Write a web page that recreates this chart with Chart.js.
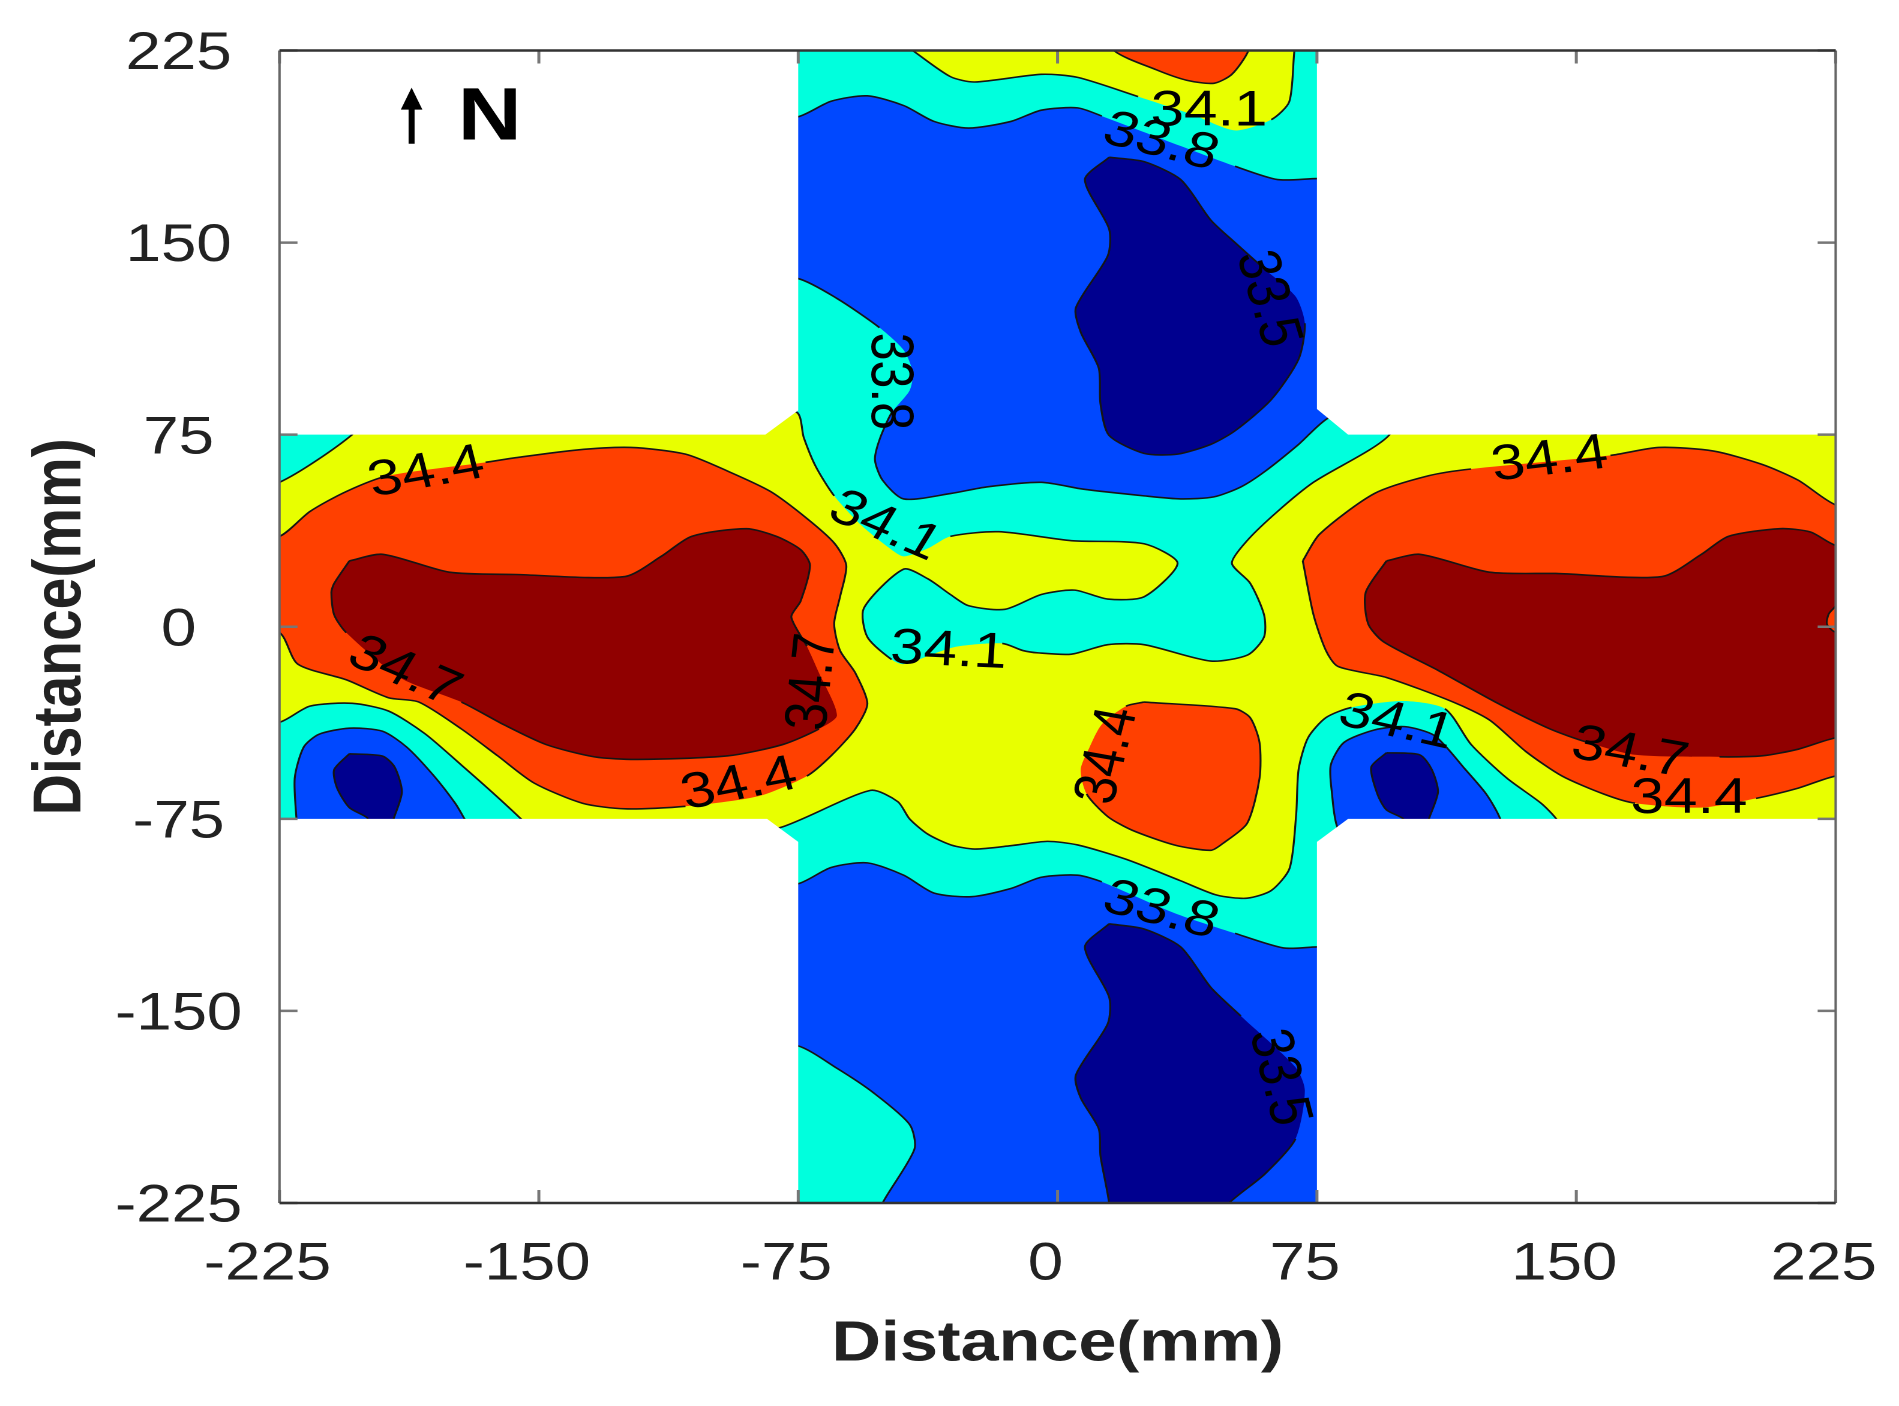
<!DOCTYPE html>
<html>
<head>
<meta charset="utf-8">
<title>Distance contour</title>
<script src="https://cdn.jsdelivr.net/npm/chart.js@4/dist/chart.umd.min.js"></script>
<style>
  html, body { margin: 0; background: #fff; overflow: hidden; }
  /* the original figure is stretched sideways by about 1.2 */
  #wrap { width: 1583px; height: 1406px; transform: scaleX(1.2); transform-origin: 0 0; }
</style>
</head>
<body>
<div id="wrap"><canvas id="c" width="1583" height="1406"></canvas></div>
<script>
const tickValues = [-225, -150, -75, 0, 75, 150, 225];

const levelColors = {
  c341: "#00ffdd",
  c338: "#0048ff",
  c335: "#00008f",
  c344: "#ff4000",
  c347: "#900000",
};

// contour outlines in mm. Parts outside the cross get covered by the white corners
const cyanMain = [[-90,235],[-90,84],[-75.5,83.8],[-73.4,73.9],[-69.9,62.5],[-64.6,51.1],[-56.8,39.7],[-48.9,31],[-44.5,27.5],[-37.5,30.6],[-31,35.3],[-17,37.1],[4,33.6],[25,32.4],[34.7,24.8],[25,11.7],[14.5,10.8],[4.9,14.3],[-4.7,12.6],[-15.2,6.8],[-25.7,8.2],[-31,12.6],[-37.5,18.7],[-44.5,22.5],[-56,7.3],[-55,-4],[-48,-12.8],[-44.5,-14.6],[-30,-8],[-16,-6.5],[-10,-9.3],[-5.6,-10.2],[4,-10.7],[14.5,-7],[25,-7],[44.3,-13.4],[55,-11],[59.7,-4],[59.7,4.7],[55.7,17],[50.4,24.8],[54.8,33.6],[63.6,45],[74,56.4],[96,75],[96,90],[90,235]];
const cyanCorner = [[-235,56],[-225,56.4],[-204,75],[-204,80],[-235,80]];
const cyanSouth = [[-90,-78],[-80.4,-78.5],[-54.1,-63.9],[-46.2,-68.3],[-42.8,-75],[-37.5,-81],[-30.8,-85.2],[-24,-86.8],[-13.5,-85.5],[-3,-83.8],[5.8,-85.2],[19.8,-90.8],[35.6,-99.2],[46.1,-104.8],[54.8,-106],[61.8,-103],[67.1,-94.3],[69,-73.2],[69.7,-55.7],[72.4,-43.4],[77.6,-35.5],[85,-31.5],[100,-29],[112,-32],[119.6,-46],[130,-59.2],[139.8,-68.9],[144.2,-75],[146,-80],[90,-235],[-90,-235]];
const cyanWest = [[-235,-37],[-225,-37.3],[-216.2,-31],[-204,-29.9],[-193.5,-32.9],[-183,-41.7],[-172.4,-54],[-163.6,-64.5],[-155.2,-75],[-154,-77],[-235,-77]];

const yellowCap = [[-41.9,225],[-41,235],[70,235],[68.5,225],[67,205],[61.8,198],[51.3,193.8],[39,200],[23.3,207],[5.8,214.5],[-4.7,215.7],[-24,212.7],[-31,214.8]];

const blueNorth = [[-90,199],[-75.2,199.1],[-65.5,205.2],[-55,207.3],[-44.5,203.5],[-35.7,197.3],[-25.7,194.7],[-13.5,197.3],[-4.7,201.7],[5.8,202.6],[12.8,199.4],[35.6,187.7],[51.3,179.8],[63.6,174.6],[75,175],[90,175],[90,85],[78.5,81.7],[69.7,71.2],[60,60.7],[53,54.6],[45.2,50.7],[35.6,49.9],[25,51.1],[7.5,53.7],[-4.7,56.4],[-20.5,54.6],[-31,52],[-44.5,49.9],[-50.6,57.2],[-52.8,65.1],[-51.5,73],[-48,83.5],[-42.8,92.2],[-41.9,99.3],[-44.5,108],[-51.5,116.8],[-63.8,128.2],[-75.2,136],[-90,136]];
const blueSouth = [[-90,-100.4],[-75.2,-100.4],[-65.5,-94],[-55,-92.2],[-44.5,-97],[-35.7,-104],[-24.9,-105.4],[-13.5,-102.2],[-4.7,-97.8],[5.8,-97],[12.8,-99.6],[33.8,-111.8],[51.3,-119.7],[65.3,-125.4],[75,-125],[90,-125],[90,-235],[-53,-235],[-50.6,-225],[-41.4,-204],[-42.8,-194.3],[-53.2,-182],[-63.8,-172.4],[-75.2,-163.6],[-90,-163.6]];
const blueWest = [[-220,-77],[-220.6,-59.2],[-218,-47],[-213.6,-42],[-204.8,-39.6],[-195.2,-40.8],[-188.2,-47],[-180.3,-58.3],[-174.2,-68.9],[-171.5,-75],[-170.7,-77]];
const blueEast = [[85,-80],[81,-78.5],[79.3,-64.5],[79,-54],[82.8,-45.2],[91.6,-40.3],[100.4,-39],[109,-42.5],[117.9,-55.7],[124,-65.4],[128,-75],[128,-80]];

const navyNorth = [[14.9,183.3],[25,181.6],[35.6,174.6],[44.3,158.8],[51.3,150],[60,139.5],[68.8,129],[71.5,118.5],[69.7,104.5],[61.8,88.7],[51.3,76.5],[44.3,71.2],[34.7,67.4],[25,67.7],[14.9,74.7],[12.4,87],[11.9,101],[6.7,115],[5.3,124.6],[14.5,144.8],[14.9,155.3],[7.9,174.6]];
const navySouth = [[14.9,-116],[25,-118],[35.6,-125],[44.3,-140.8],[53,-152],[68.8,-172],[71.5,-181],[68.8,-200],[60,-213.6],[49.6,-225],[44,-235],[15,-235],[14.9,-225],[12.4,-206.6],[11.9,-196],[6.7,-184],[5.3,-175],[14.5,-155],[14.9,-144.6],[7.9,-125]];
const navyWest = [[-204.8,-49.6],[-195.2,-50.5],[-191.7,-54.8],[-189.6,-64.5],[-192,-75],[-192.6,-77],[-199.6,-77],[-199.6,-74.6],[-204.8,-70.6],[-208.4,-62.8],[-209.2,-55.8]];
const navyEast = [[95.1,-49.2],[104.7,-50],[108.2,-55.7],[110,-64.5],[107.4,-75],[106.8,-78],[100,-78],[100,-75],[95.1,-71.5],[92.5,-65.4],[90.7,-54.8]];

const orangeWest = [[-235,35],[-225,35.3],[-216.2,45],[-205.7,52.8],[-193.5,59],[-165.4,64.2],[-156.7,66],[-139.1,69],[-123.4,70],[-107.6,67.4],[-95.3,60.7],[-83,52.8],[-72.5,42.3],[-64.6,32.7],[-61.1,24],[-62.9,11.7],[-64.6,1.2],[-62.9,-9.3],[-58.5,-18],[-55,-30],[-58.5,-39.9],[-65.5,-50.4],[-72.5,-58.3],[-86.6,-66.2],[-107.6,-70.1],[-125.1,-71.1],[-137.4,-68.9],[-151.4,-61],[-161.9,-50.4],[-172.4,-39.9],[-184.7,-29.4],[-193.5,-27.7],[-205.7,-20.7],[-219.7,-14.6],[-225,-2.3],[-235,-2]];
const orangeEast = [[70.9,25.7],[75.8,36.2],[91.6,52],[107.4,59],[119.6,61.6],[159.9,66.9],[173.9,70],[189.7,68.6],[203.7,63.4],[214.2,57.2],[225,47.6],[235,47],[235,-58],[225,-58.3],[214.2,-63],[202,-67],[186.2,-70.6],[167,-68.9],[158.1,-65.4],[145.9,-58.3],[135.4,-48.7],[124.9,-36.4],[114.4,-29.4],[95.1,-19.8],[81.1,-15.5],[77.6,-9.3],[74,4.7]];
const orangeCentre = [[25,-29.4],[51.3,-32],[55.7,-35.5],[58.4,-45.2],[58.4,-59.2],[54.8,-76.8],[47.8,-84.6],[44.3,-87.3],[33.8,-85.2],[21.5,-79.4],[14.5,-74.1],[8.4,-65.3],[6.7,-55.7],[9.3,-46.9],[12.8,-38.1],[19.8,-31]];
const orangeNorth = [[14,235],[16.3,225],[28.5,217.5],[37.3,213.4],[45.2,212.2],[50.4,215.7],[55.2,225],[56,235]];
const orangeEdge = [[225,8],[223,5],[222.5,1],[225,-2],[232,3]];

const darkRedWest = [[-204.8,25.7],[-195.2,28.3],[-175.9,21.3],[-156.7,20.4],[-125.1,19.6],[-114.6,27.5],[-105.8,35.3],[-90,38.3],[-81.3,35.3],[-74.3,30.1],[-71.6,24],[-74.3,10],[-77,3.8],[-72.5,-7.6],[-69,-18],[-63.8,-34.6],[-69,-39.9],[-79.5,-46],[-95.3,-50.4],[-121.6,-51.8],[-133.9,-50.8],[-147.9,-46],[-160.2,-38.2],[-172.4,-29.4],[-190,-20],[-205.7,-2.3],[-209.2,4.7],[-210,13.4],[-209.2,16.9]];
const darkRedEast = [[95.1,25.7],[104.7,28.3],[124.9,21.3],[144.1,20.8],[174.8,19.6],[186.2,28.3],[194,35.3],[208.9,38.3],[217.7,37],[225,31.8],[235,31],[235,-43],[225,-43.4],[214.2,-47.8],[203.7,-50.4],[191.4,-50.8],[167,-50],[152.9,-45],[142.4,-39.9],[126.6,-29.4],[110,-17],[94.2,-5.8],[89.8,1.2],[89.1,13.4]];

// white outside the cross
const cornerNW = [[-240,240],[-75,240],[-75,84.5],[-84.5,75],[-240,75]];
const cornerNE = [[240,240],[75,240],[75,85],[84,75],[240,75]];
const cornerSW = [[-240,-240],[-75,-240],[-75,-84],[-84,-75],[-240,-75]];
const cornerSE = [[240,-240],[75,-240],[75,-84],[84,-75],[240,-75]];

// contour labels
const labelTexts = ["34.4", "34.7", "34.7", "34.4", "34.1", "34.1", "33.8", "33.8", "34.1", "33.5", "34.4", "34.7", "34.4", "34.1", "34.4", "33.8", "33.5"];
const labelX = [-182.5, -189, -70.5, -92, -31.5, -50, -49, 29.8, 43.8, 60.5, 142.3, 165.4, 182.6, 98, 14.7, 29.8, 63.8];
const labelY = [60, -17.7, -21.5, -61.8, -9.7, 39, 95.8, 189, 201, 128, 65, -49.5, -67.4, -37.6, -50.4, -111, -176];
const labelAngles = [-12, 27, -85, -13, 3, 27, 90, 17, 0, 76, -8, 12, 0, 15, -78, 17, 78];

const northArrowX = -186.8;
const northArrowY = [188.6, 210.5];

const lineColor = "#151515";
const fontFamily = "'Liberation Sans', Arial, sans-serif";

const toPoints = (pts) => pts.map(([x, y]) => ({ x, y }));

// clabel breaks its own contour under the text
const underLabel = (level, a, b) => {
  const mx = (a.x + b.x) / 2;
  const my = (a.y + b.y) / 2;
  return labelTexts.some((t, i) => t === level && Math.hypot(mx - labelX[i], my - labelY[i]) < 17);
};

const datasets = [];

const addFill = (pts, color, tension) => {
  datasets.push({
    data: toPoints(pts),
    showLine: true,
    fill: "shape",
    backgroundColor: color,
    borderWidth: 0,
    pointRadius: 0,
    tension,
  });
};

const addRegion = (pts, color, level) => {
  const closed = pts.concat([pts[0]]);
  addFill(closed, color, 0.25);
  datasets.push({
    data: toPoints(closed),
    showLine: true,
    fill: false,
    borderColor: lineColor,
    borderWidth: 1.6,
    pointRadius: 0,
    tension: 0.25,
    segment: {
      borderColor: (ctx) => (underLabel(level, ctx.p0.parsed, ctx.p1.parsed) ? "rgba(0,0,0,0)" : lineColor),
    },
  });
};

addFill([[-240, 240], [240, 240], [240, -240], [-240, -240]], "#e8ff00", 0);
addRegion(cyanMain, levelColors.c341, "34.1");
addRegion(cyanCorner, levelColors.c341, "34.1");
addRegion(cyanSouth, levelColors.c341, "34.1");
addRegion(cyanWest, levelColors.c341, "34.1");
addRegion(yellowCap, "#e8ff00", "34.1");
addRegion(blueNorth, levelColors.c338, "33.8");
addRegion(blueSouth, levelColors.c338, "33.8");
addRegion(blueWest, levelColors.c338, "33.8");
addRegion(blueEast, levelColors.c338, "33.8");
addRegion(navyNorth, levelColors.c335, "33.5");
addRegion(navySouth, levelColors.c335, "33.5");
addRegion(navyWest, levelColors.c335, "33.5");
addRegion(navyEast, levelColors.c335, "33.5");
addRegion(orangeWest, levelColors.c344, "34.4");
addRegion(orangeEast, levelColors.c344, "34.4");
addRegion(orangeCentre, levelColors.c344, "34.4");
addRegion(orangeNorth, levelColors.c344, "34.4");
addRegion(darkRedWest, levelColors.c347, "34.7");
addRegion(darkRedEast, levelColors.c347, "34.7");
addRegion(orangeEdge, levelColors.c344, "34.7");
[cornerNW, cornerNE, cornerSW, cornerSE].forEach((c) => addFill(c, "#ffffff", 0));

// chart.js paints the first dataset last
datasets.reverse();

const frameAndLabels = {
  id: "frameAndLabels",
  afterDatasetsDraw(chart) {
    const { ctx, chartArea: a, scales: { x, y } } = chart;
    ctx.save();

    // contour labels
    ctx.fillStyle = "#000";
    ctx.font = `50px ${fontFamily}`;
    ctx.textAlign = "center";
    ctx.textBaseline = "middle";
    labelTexts.forEach((t, i) => {
      ctx.save();
      ctx.translate(x.getPixelForValue(labelX[i]), y.getPixelForValue(labelY[i]));
      ctx.rotate((labelAngles[i] * Math.PI) / 180);
      ctx.fillText(t, 0, 0);
      ctx.restore();
    });

    // north mark
    const ax = x.getPixelForValue(northArrowX);
    const y0 = y.getPixelForValue(northArrowY[0]);
    const y1 = y.getPixelForValue(northArrowY[1]);
    ctx.strokeStyle = "#000";
    ctx.lineWidth = 5;
    ctx.beginPath();
    ctx.moveTo(ax, y0);
    ctx.lineTo(ax, y1 + 12);
    ctx.stroke();
    ctx.beginPath();
    ctx.moveTo(ax, y1);
    ctx.lineTo(ax - 9, y1 + 22);
    ctx.lineTo(ax + 9, y1 + 22);
    ctx.closePath();
    ctx.fill();
    ctx.font = `bold 74px ${fontFamily}`;
    ctx.fillText("N", x.getPixelForValue(-164.2), y.getPixelForValue(199) + 2);

    // inward ticks on all four sides
    ctx.strokeStyle = "#777";
    ctx.lineWidth = 2.5;
    ctx.beginPath();
    tickValues.forEach((v) => {
      const px = x.getPixelForValue(v);
      const py = y.getPixelForValue(v);
      ctx.moveTo(px, a.bottom);
      ctx.lineTo(px, a.bottom - 13);
      ctx.moveTo(px, a.top);
      ctx.lineTo(px, a.top + 13);
      ctx.moveTo(a.left, py);
      ctx.lineTo(a.left + 15, py);
      ctx.moveTo(a.right, py);
      ctx.lineTo(a.right - 15, py);
    });
    ctx.stroke();

    // box
    ctx.strokeStyle = "#666";
    ctx.lineWidth = 2;
    ctx.beginPath();
    ctx.moveTo(a.left, a.top);
    ctx.lineTo(a.left, a.bottom);
    ctx.moveTo(a.right, a.top);
    ctx.lineTo(a.right, a.bottom);
    ctx.stroke();
    ctx.strokeStyle = "#333";
    ctx.lineWidth = 2.5;
    ctx.beginPath();
    ctx.moveTo(a.left, a.top);
    ctx.lineTo(a.right, a.top);
    ctx.moveTo(a.left, a.bottom);
    ctx.lineTo(a.right, a.bottom);
    ctx.stroke();
    ctx.restore();
  },
};

const axisTitle = (text, padding) => ({
  display: true,
  text,
  color: "#222",
  font: { family: fontFamily, size: 57, weight: "bold" },
  padding,
});

new Chart(document.getElementById("c"), {
  type: "scatter",
  data: { datasets },
  options: {
    responsive: false,
    animation: false,
    devicePixelRatio: 2,
    layout: { padding: { left: 0, right: 53.3, top: 50.5, bottom: 0 } },
    plugins: { legend: { display: false }, tooltip: { enabled: false } },
    scales: {
      x: {
        type: "linear",
        min: -225,
        max: 225,
        afterBuildTicks: (s) => { s.ticks = tickValues.map((value) => ({ value })); },
        afterFit: (s) => { s.height = 203; s.paddingLeft = 0; s.paddingRight = 0; },
        ticks: {
          autoSkip: false,
          maxRotation: 0,
          padding: 22,
          labelOffset: -10,
          color: "#222",
          font: { family: fontFamily, size: 53 },
        },
        grid: { display: false },
        border: { display: false },
        title: axisTitle("Distance(mm)", { top: 0, bottom: 27 }),
      },
      y: {
        type: "linear",
        min: -225,
        max: 225,
        afterBuildTicks: (s) => { s.ticks = tickValues.map((value) => ({ value })); },
        afterFit: (s) => { s.width = 232.9; s.paddingTop = 0; s.paddingBottom = 0; },
        ticks: {
          autoSkip: false,
          crossAlign: "center",
          padding: 23,
          labelOffset: 4,
          color: "#222",
          font: { family: fontFamily, size: 53 },
        },
        grid: { display: false },
        border: { display: false },
        title: axisTitle("Distance(mm)", { top: 17, bottom: 0 }),
      },
    },
  },
  plugins: [frameAndLabels],
});
</script>
</body>
</html>
